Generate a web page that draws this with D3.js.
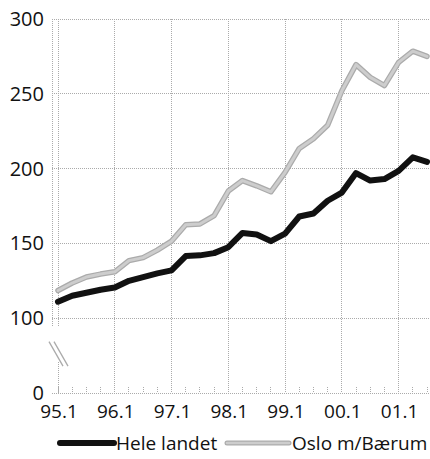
<!DOCTYPE html>
<html><head><meta charset="utf-8">
<script src="https://cdn.jsdelivr.net/npm/d3@7"></script>
<style>body{margin:0;background:#fff}svg{display:block}</style>
</head><body>
<svg id="c" width="430" height="459"></svg>
<script>
const quarters = ["95.1","95.2","95.3","95.4","96.1","96.2","96.3","96.4","97.1","97.2","97.3","97.4",
  "98.1","98.2","98.3","98.4","99.1","99.2","99.3","99.4","00.1","00.2","00.3","00.4","01.1","01.2","01.3"];
const heleLandet = [111,115,117,119,120.5,125,127.5,130,132,141.5,142,143.5,147.5,157,156,151.5,156.5,168,170,178.5,184,197,192,193,198.5,207.5,204.5];
const osloBaerum = [118.5,123.5,127.5,129.5,131,138.5,140.5,145.5,151.5,162.5,163,168.5,185,192,188.5,184.5,197.5,213.5,220,229,252,269.5,261,255.5,271,278.5,275];
const yTicks = [0,100,150,200,250,300];
const xLabels = ["95.1","96.1","97.1","98.1","99.1","00.1","01.1"];
const seriesNames = ["Hele landet","Oslo m/Bærum"];

(function(){
const svg = d3.select("#c");
const font = "'Open Sans', sans-serif";
const pL = 52, pR = 430, pT = 19, pB = 393;
const x = d3.scalePoint().domain(quarters).range([58, 427]);
const y = d3.scaleLinear().domain([50, 300]).range([pB, pT]);
const yPos = v => v === 0 ? y(50) : y(v);
const grid = "#ababab";

const g = svg.append("g");
function dotted(x1, y1, x2, y2) {
  g.append("line").attr("x1", x1).attr("x2", x2).attr("y1", y1).attr("y2", y2)
    .attr("stroke", grid).attr("stroke-width", 1).attr("stroke-dasharray", "1,1").attr("shape-rendering","crispEdges");
}
yTicks.forEach(t => dotted(pL, yPos(t), pR, yPos(t)));
dotted(pL, pT, pL, y(94));
xLabels.forEach((q, i) => {
  const xx = x(q);
  if (i === 0) { dotted(xx, pT, xx, y(94)); dotted(xx, y(71), xx, pB); }
  else dotted(xx, pT, xx, pB);
});
quarters.forEach(q => dotted(x(q), pB - 6, x(q), pB));
// axis break symbol
[0, 5].forEach(o => {
  g.append("line").attr("x1", 49 + o).attr("y1", y(83) - 2).attr("x2", 63 + o).attr("y2", y(68))
    .attr("stroke", "#ababab").attr("stroke-width", 1.3);
});

yTicks.forEach(t => {
  svg.append("text").attr("x", 44).attr("y", yPos(t)).attr("dy", "0.35em").attr("text-anchor", "end")
    .attr("font-family", font).attr("font-size", 20).attr("fill", "#111").text(t);
});
xLabels.forEach(q => {
  svg.append("text").attr("x", x(q) + 1).attr("y", 418).attr("text-anchor", "middle")
    .attr("font-family", font).attr("font-size", 19).attr("fill", "#111").text(q);
});

const line = d3.line().x((d, i) => x(quarters[i])).y(d => y(d)).curve(d3.curveLinear);
svg.append("path").attr("d", line(osloBaerum)).attr("fill", "none").attr("stroke", "#ababab")
  .attr("stroke-width", 5.5).attr("stroke-linejoin", "round").attr("stroke-linecap", "round");
svg.append("path").attr("d", line(osloBaerum)).attr("fill", "none").attr("stroke", "#cdcdcd")
  .attr("stroke-width", 3).attr("stroke-linejoin", "round").attr("stroke-linecap", "round");
svg.append("path").attr("d", line(heleLandet)).attr("fill", "none").attr("stroke", "#111")
  .attr("stroke-width", 6).attr("stroke-linejoin", "round").attr("stroke-linecap", "round");

const ly = 443;
svg.append("line").attr("x1", 60).attr("x2", 114).attr("y1", ly).attr("y2", ly)
  .attr("stroke", "#111").attr("stroke-width", 6).attr("stroke-linecap", "round");
svg.append("text").attr("x", 116).attr("y", ly).attr("dy", "0.35em").attr("font-family", font)
  .attr("font-size", 19).attr("fill", "#111").text(seriesNames[0]);
svg.append("line").attr("x1", 227).attr("x2", 289).attr("y1", ly).attr("y2", ly)
  .attr("stroke", "#ababab").attr("stroke-width", 5).attr("stroke-linecap", "round");
svg.append("line").attr("x1", 227).attr("x2", 289).attr("y1", ly).attr("y2", ly)
  .attr("stroke", "#cdcdcd").attr("stroke-width", 2.6).attr("stroke-linecap", "round");
svg.append("text").attr("x", 292).attr("y", ly).attr("dy", "0.35em").attr("font-family", font)
  .attr("font-size", 19).attr("fill", "#111").text(seriesNames[1]);
})();
</script>
</body></html>
